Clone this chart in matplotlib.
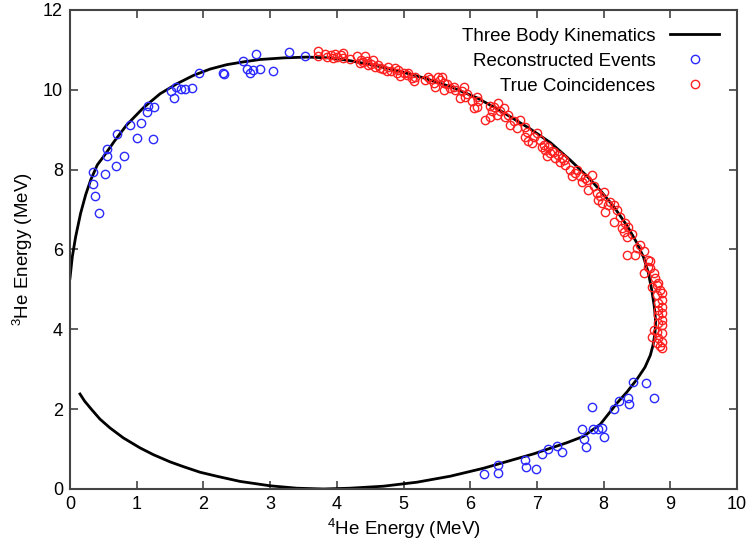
import matplotlib

matplotlib.use("Agg")
import matplotlib.pyplot as plt

plt.rcParams["font.family"] = ["Liberation Sans", "DejaVu Sans"]
plt.rcParams["mathtext.fontset"] = "custom"
plt.rcParams["mathtext.rm"] = "Liberation Sans"

# kinematic locus (lower-left end -> lower branch -> upper branch -> left edge)
curve_e4 = [0.15, 0.22, 0.33, 0.45, 0.6, 0.8, 1.05, 1.25, 1.5, 1.7, 1.95, 2.2, 2.55, 3.0,
            3.4, 3.8, 4.2, 4.7, 5.2, 5.7, 6.2, 6.45, 6.7, 6.95, 7.2, 7.45, 7.7, 7.95,
            8.2, 8.35, 8.5, 8.62, 8.7, 8.74, 8.77, 8.78, 8.76, 8.72, 8.67, 8.6, 8.5, 8.35,
            8.15, 7.95, 7.75, 7.5, 7.2, 6.9, 6.45, 6.1, 5.7, 5.3, 4.95, 4.6, 4.2, 3.9,
            3.55, 3.2, 2.85, 2.6, 2.35, 2.1, 1.85, 1.6, 1.35, 1.1, 0.85, 0.66, 0.535, 0.41,
            0.31, 0.235, 0.16, 0.085, 0.035, 0.0]
curve_e3 = [2.38, 2.2, 1.98, 1.75, 1.53, 1.28, 1.03, 0.86, 0.68, 0.56, 0.42, 0.32, 0.19, 0.08,
            0.02, 0.0, 0.02, 0.07, 0.17, 0.32, 0.52, 0.64, 0.76, 0.88, 1.02, 1.16, 1.32, 1.62,
            2.15, 2.43, 2.75, 3.05, 3.35, 3.6, 3.9, 4.2, 4.57, 5.0, 5.42, 5.8, 6.16, 6.6,
            7.08, 7.48, 7.84, 8.24, 8.68, 9.02, 9.48, 9.8, 10.08, 10.3, 10.46, 10.6, 10.73, 10.8,
            10.82, 10.8, 10.76, 10.7, 10.63, 10.52, 10.36, 10.15, 9.9, 9.55, 9.12, 8.7, 8.4, 8.12,
            7.74, 7.37, 6.91, 6.32, 5.82, 5.28]

reco_e4 = [0.35, 0.34, 0.38, 0.43, 0.52, 0.55, 0.56, 0.69, 0.70, 0.81, 0.90, 1.0, 1.06, 1.16,
           1.17, 1.26, 1.24, 1.51, 1.56, 1.59, 1.67, 1.72, 1.83, 1.94, 2.29, 2.31, 2.59, 2.66,
           2.70, 2.74, 2.79, 2.85, 3.05, 3.28, 3.53,
           6.21, 6.41, 6.41, 6.82, 6.84, 6.98, 7.08, 7.16, 7.30, 7.37, 7.68, 7.71, 7.73, 7.82,
           7.84, 7.92, 7.98, 8.0, 8.16, 8.23, 8.36, 8.38, 8.44, 8.64, 8.75]
reco_e3 = [7.93, 7.64, 7.35, 6.91, 7.89, 8.35, 8.52, 8.10, 8.90, 8.35, 9.12, 8.79, 9.17, 9.44,
           9.60, 9.57, 8.76, 9.98, 9.80, 10.08, 10.01, 10.01, 10.04, 10.43, 10.43, 10.40, 10.73, 10.53,
           10.43, 10.50, 10.91, 10.52, 10.47, 10.94, 10.85,
           0.37, 0.60, 0.39, 0.73, 0.54, 0.49, 0.88, 0.99, 1.08, 0.93, 1.50, 1.26, 1.05, 2.06,
           1.50, 1.50, 1.52, 1.30, 2.0, 2.21, 2.27, 2.12, 2.69, 2.66, 2.27]

true_e4 = [3.72, 3.72, 3.82, 3.85, 3.92, 3.95, 3.97, 4.0, 4.07, 4.1, 4.1, 4.2, 4.3, 4.35,
           4.37, 4.42, 4.45, 4.47, 4.52, 4.55, 4.57, 4.62, 4.65, 4.7, 4.75, 4.77, 4.82, 4.87,
           4.9, 4.92, 4.95, 5.0, 5.05, 5.07, 5.12, 5.15, 5.17,
           5.32, 5.37, 5.45, 5.47, 5.52, 5.55, 5.57, 5.6, 5.6, 5.65, 5.7, 5.75, 5.77, 5.85,
           5.87, 5.9, 5.92, 6.02, 6.05, 6.1, 6.1, 6.12, 6.22, 6.3, 6.32, 6.35, 6.4, 6.42,
           6.45, 6.5, 6.52, 6.57, 6.6, 6.65, 6.7, 6.75, 6.82, 6.85,
           6.82, 6.87, 6.92, 6.95, 7.0, 7.05, 7.07, 7.12, 7.15, 7.17, 7.2, 7.25, 7.27, 7.32,
           7.35, 7.4, 7.42, 7.5, 7.52, 7.57, 7.65, 7.67, 7.75, 7.77, 7.82, 7.85, 7.9, 7.95, 8.0,
           7.92, 7.97, 8.02, 8.07, 8.15, 8.15, 8.25, 8.27, 8.3, 8.32, 8.35, 8.37, 8.35, 8.47,
           8.5, 8.55, 8.6, 8.6, 8.67, 8.7, 8.77, 8.82, 8.72,
           8.7, 8.67, 8.75, 8.8, 8.85, 8.87, 8.8, 8.87, 8.82, 8.87, 8.82, 8.87, 8.82, 8.87,
           8.82, 8.87, 8.75, 8.8, 8.87, 8.72, 8.82, 8.87, 8.8, 8.85, 8.87,
           7.1, 7.22, 7.38, 7.6, 7.72, 8.1, 8.2, 8.42, 6.3, 5.95, 5.4, 4.4]
true_e3 = [10.98, 10.84, 10.9, 10.82, 10.88, 10.79, 10.9, 10.82, 10.88, 10.79, 10.92, 10.77, 10.84, 10.67,
           10.75, 10.84, 10.71, 10.63, 10.65, 10.75, 10.58, 10.63, 10.54, 10.52, 10.48, 10.58, 10.46, 10.54,
           10.42, 10.5, 10.35, 10.42, 10.38, 10.43, 10.29, 10.21, 10.33,
           10.25, 10.33, 10.17, 10.06, 10.33, 10.25, 10.31, 10.17, 10.0, 10.14, 10.04, 10.08, 10.0, 9.79,
           9.96, 10.08, 9.83, 9.71, 9.54, 9.83, 9.58, 9.71, 9.25, 9.33, 9.46, 9.58, 9.37, 9.67,
           9.46, 9.54, 9.33, 9.37, 9.12, 9.21, 9.04, 9.25, 9.08, 8.95,
           8.83, 8.71, 8.66, 8.83, 8.91, 8.75, 8.58, 8.5, 8.33, 8.58, 8.41, 8.45, 8.29, 8.37,
           8.2, 8.25, 8.12, 8.0, 7.83, 7.91, 7.83, 7.7, 7.74, 7.49, 7.87, 7.58, 7.41, 7.33, 7.45,
           7.24, 7.16, 6.95, 7.12, 6.7, 7.12, 6.82, 6.53, 6.45, 6.66, 6.32, 6.57, 5.86, 5.86,
           6.03, 6.12, 5.95, 5.41, 5.74, 5.53, 5.28, 5.16, 5.07,
           5.7, 5.57, 5.41, 5.11, 4.99, 4.9, 4.86, 4.74, 4.65, 4.57, 4.49, 4.4, 4.36, 4.24,
           4.15, 4.11, 3.98, 3.94, 3.9, 3.82, 3.78, 3.69, 3.65, 3.57, 3.53,
           8.62, 8.47, 8.3, 7.98, 7.8, 7.2, 6.98, 6.4, 9.6, 9.9, 10.28, 10.7]

fig, ax = plt.subplots(figsize=(7.5, 5.49), dpi=100)
fig.subplots_adjust(left=0.0933, right=0.9827, bottom=0.1093, top=0.9818)

ax.plot(curve_e4, curve_e3, color="black", lw=2.0, label="Three Body Kinematics", zorder=2,
        solid_joinstyle="round")
ax.plot(reco_e4, reco_e3, ls="none", marker="o", ms=6, mfc="none", mec="#2a2aff", mew=1.0,
        label="Reconstructed Events", zorder=3)
ax.plot(true_e4, true_e3, ls="none", marker="o", ms=6, mfc="none", mec="#ff2020", mew=1.0,
        label="True Coincidences", zorder=3)

ax.set_xlim(0, 10)
ax.set_ylim(0, 12)
ax.set_xticks(range(0, 11))
ax.set_yticks(range(0, 13, 2))
ax.tick_params(direction="in", top=True, right=True, length=6, width=1.2, labelsize=13,
               color="#444444", pad=5)
for spine in ax.spines.values():
    spine.set_linewidth(1.5)
    spine.set_color("#444444")

ax.set_xlabel(r"$\mathregular{^{4}}$He Energy (MeV)", fontsize=13.5, labelpad=3)
ax.set_ylabel(r"$\mathregular{^{3}}$He Energy (MeV)", fontsize=13.5, labelpad=6)

ax.legend(loc="upper right", frameon=False, markerfirst=False, fontsize=13.5,
          handlelength=2.6, labelspacing=0.42, borderaxespad=0.55)

fig.savefig("out.png", dpi=100)
